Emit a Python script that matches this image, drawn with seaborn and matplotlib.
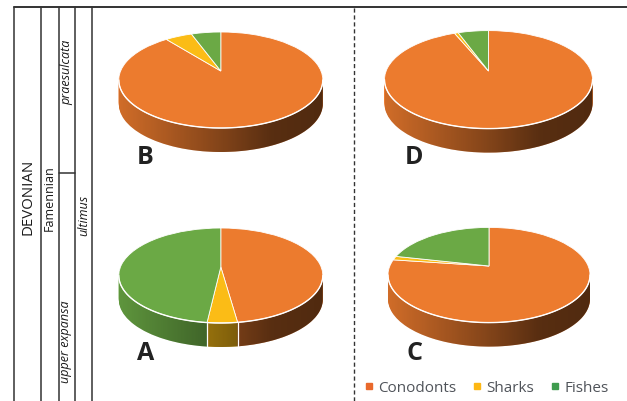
import numpy as np
import matplotlib
matplotlib.use("Agg")
import matplotlib.pyplot as plt
import matplotlib.transforms as mtransforms
from matplotlib.lines import Line2D
from matplotlib.patches import Polygon
import seaborn as sns

# percentages per sample, clockwise from 12 o'clock
samples = ["A", "B", "C", "D"]
conodonts = [47.8, 89.3, 77.2, 93.7]
sharks = [4.0, 5.1, 1.3, 0.7]
fishes = [48.2, 5.6, 21.5, 5.6]
groups = ["Conodonts", "Sharks", "Fishes"]
group_colors = ["#EC7B2E", "#FBBC16", "#6BA945"]
legend_colors = ["#E9692C", "#FDB714", "#3F9C4F"]

W, H = 627, 401


class TiltedPie(mtransforms.Transform):
    """Perspective map of the unit circle, apex sits above the ellipse centre"""
    input_dims = 2
    output_dims = 2

    def __init__(self, cx, cy, rx, ry, apex):
        super().__init__()
        self.cx, self.cy, self.rx, self.ry, self.apex = cx, cy, rx, ry, apex

    def transform_non_affine(self, xy):
        xy = np.asarray(xy)
        b = self.apex / self.ry
        w = 1 + b * xy[:, 1]
        return np.column_stack([
            self.cx + self.rx * np.sqrt(1 - b ** 2) * xy[:, 0] / w,
            self.cy + (self.ry * xy[:, 1] + self.apex) / w,
        ])


sns.set_theme(style="white")
plt.rcParams["font.family"] = ["Open Sans", "DejaVu Sans"]

fig = plt.figure(figsize=(W / 100, H / 100), dpi=100)
ax = fig.add_axes([0, 0, 1, 1])

# centre x, centre y (pixels from top), rx, ry, apex offset, letter position
layout = {
    "A": (220.8, 275.5, 102, 47.5, 8.5, (146, 353)),
    "B": (220.8, 80, 102, 48, 9, (145, 158)),
    "C": (489, 275, 101, 47.6, 9, (414, 353)),
    "D": (488.5, 79.6, 104, 49, 8.6, (414, 158)),
}
DEPTH = 24
shade = np.zeros((1, 256, 4))
shade[0, :, 3] = np.interp(np.linspace(0, 1, 256), [0, 0.5, 0.75, 1], [0.12, 0.45, 0.63, 0.66])


def draw_pie(values, cx, cy, rx, ry, apex):
    # side wall: stacked copies of the pie going down
    for d in range(DEPTH, 0, -1):
        wedges, _ = ax.pie(values, colors=group_colors, startangle=90, counterclock=False,
                           wedgeprops={"linewidth": 0, "zorder": 1})
        for w in wedges:
            w.set_transform(TiltedPie(cx, cy - d, rx, ry, apex) + ax.transData)

    t = np.linspace(np.pi, 2 * np.pi, 100)
    low_x, low_y = cx + rx * np.cos(t), cy + ry * np.sin(t)
    wall = Polygon(np.vstack([np.column_stack([low_x, low_y]),
                              np.column_stack([low_x, low_y - DEPTH])[::-1]]),
                   transform=ax.transData)
    im = ax.imshow(shade, extent=(cx - rx, cx + rx, cy - ry - DEPTH, cy), aspect="auto", zorder=2)
    im.set_clip_path(wall)

    # white seams on the front of the wall
    proj = TiltedPie(cx, cy, rx, ry, apex)
    for edge in np.cumsum(values)[:-1] / np.sum(values):
        ang = np.pi / 2 - 2 * np.pi * edge
        if np.sin(ang) < 0:
            px, py = proj.transform_non_affine(np.array([[np.cos(ang), np.sin(ang)]]))[0]
            ax.plot([px, px], [py, py - DEPTH], color="white", lw=0.9, zorder=3)

    # top face
    wedges, _ = ax.pie(values, colors=group_colors, startangle=90, counterclock=False,
                       wedgeprops={"linewidth": 0.6, "edgecolor": "white", "zorder": 4})
    for w in wedges:
        w.set_transform(proj + ax.transData)
    ax.plot(low_x, low_y, color="white", lw=1.0, zorder=5)


for i, name in enumerate(samples):
    cx, cy, rx, ry, apex, letter = layout[name]
    draw_pie([conodonts[i], sharks[i], fishes[i]], cx, H - cy, rx, ry, apex)
    ax.text(letter[0], H - letter[1], name, fontsize=18, fontweight="bold", color="#222222",
            ha="center", va="center", zorder=6)

ax.set_aspect("auto")
ax.set_xlim(0, W)
ax.set_ylim(0, H)
ax.axis("off")

# stratigraphic columns
line_kw = {"color": "#333333", "lw": 1.1, "zorder": 5}
ax.plot([14, W], [H - 6.5, H - 6.5], color="#333333", lw=1.4, zorder=5)
for x in [14, 41, 58.5, 75, 91.5]:
    ax.plot([x, x], [0, H - 6.5], **line_kw)
ax.plot([58.5, 75], [H - 173, H - 173], **line_kw)
ax.plot([353.5, 353.5], [0, H - 6.5], color="#333333", lw=1, ls=(0, (3, 2)), zorder=5)

strat_labels = [
    ("DEVONIAN", 28, 197, 10.8, "normal"),
    ("Famennian", 49, 198, 9, "normal"),
    ("praesulcata", 67, 72, 9, "italic"),
    ("upper expansa", 66, 342, 9, "italic"),
    ("ultimus", 84, 215, 9, "italic"),
]
for label, x, y, size, style in strat_labels:
    ax.text(x, H - y, label, rotation=90, fontsize=size, fontstyle=style, color="#1a1a1a",
            ha="center", va="center", zorder=6)

handles = [Line2D([], [], ls="none", marker="s", ms=4.5, color=c, label=g)
           for g, c in zip(groups, legend_colors)]
ax.legend(handles=handles, loc="center", bbox_to_anchor=(485 / W, 1 - 388 / H), ncol=3, frameon=False,
          fontsize=11, labelcolor="#50545A", handletextpad=0.1, columnspacing=0.85, handlelength=1.0,
          borderpad=0, borderaxespad=0)

fig.savefig("out.png", dpi=100)
